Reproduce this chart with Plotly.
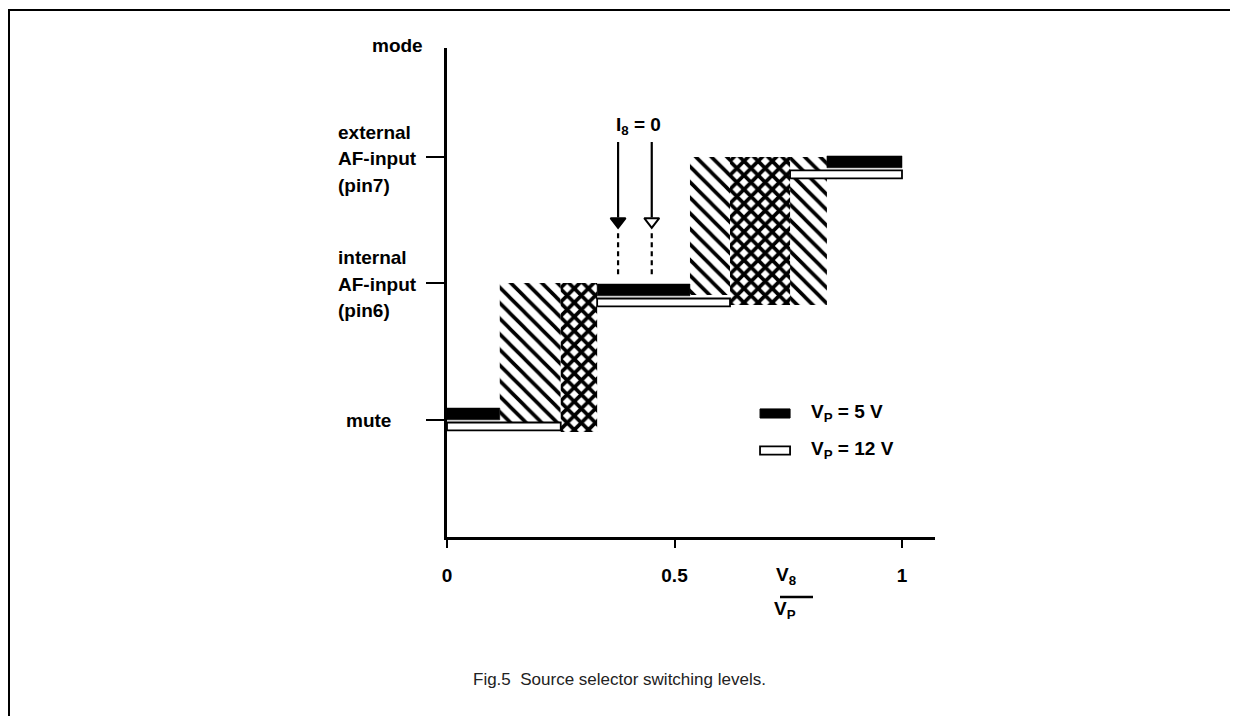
import plotly.graph_objects as go

# ---------------- data ----------------
level_names = ["mute", "internal", "external"]
level_tick_y = [1.0, 2.042, 3.0]          # y-axis tick positions of the three modes
level_y = [0.996, 1.939, 2.913]           # boundary between 5 V bar (above) and 12 V bar (below)

vp5_start = [0.0, 0.33, 0.835]
vp5_end = [0.116, 0.534, 1.0]
vp12_start = [0.0, 0.33, 0.754]
vp12_end = [0.25, 0.622, 1.0]

# single-hatched switching regions
diag_x0 = [0.116, 0.534, 0.754]
diag_x1 = [0.25, 0.622, 0.835]
diag_y0 = [0.985, 1.95, 1.875]
diag_y1 = [2.042, 3.0, 3.0]

# cross-hatched switching regions
cross_x0 = [0.25, 0.622]
cross_x1 = [0.33, 0.754]
cross_y0 = [0.909, 1.875]
cross_y1 = [2.042, 3.0]

# I8 = 0 arrows
arrow_x = [0.376, 0.45]
arrow_top = 3.114
arrow_head = 2.51
dash_top = 2.42
dash_bottom = 2.087

x_tick_vals = [0, 0.5, 1]
x_tick_text = ["0", "0.5", "1"]

# ---------------- geometry helpers ----------------
OFF = 8                              # page body margin of the html page
W, H = 1238 - OFF, 716 - OFF
L, R, T, B = 447, 935, 48, 537      # plot area in reference-picture pixels
XR = [0, (R - L) / 455.0]
px_per_unit = 131.5
YR = [1 - (B - 420) / px_per_unit, 1 + (420 - T) / px_per_unit]


def pxx(px):
    return (px - L) / (R - L)


def pyy(py):
    return (B - py) / (B - T)


FONT = "Liberation Sans"
FS = 19
BOLD = dict(family=FONT, size=FS, color="black")

fig = go.Figure()


def rect(x0, x1, y0, y1):
    return [x0, x1, x1, x0, x0], [y0, y0, y1, y1, y0]


# hatched regions
for a, b, c, d in zip(diag_x0, diag_x1, diag_y0, diag_y1):
    xs, ys = rect(a, b, c, d)
    fig.add_trace(go.Scatter(
        x=xs, y=ys, mode="lines", fill="toself", line=dict(width=0, color="black"),
        fillcolor="white",
        fillpattern=dict(shape="\\", fgcolor="black", bgcolor="white", fgopacity=1,
                         fillmode="replace", size=11, solidity=0.33),
        hoverinfo="skip", showlegend=False))

for a, b, c, d in zip(cross_x0, cross_x1, cross_y0, cross_y1):
    xs, ys = rect(a, b, c, d)
    fig.add_trace(go.Scatter(
        x=xs, y=ys, mode="lines", fill="toself", line=dict(width=0, color="black"),
        fillcolor="white",
        fillpattern=dict(shape="x", fgcolor="black", bgcolor="white", fgopacity=1,
                         fillmode="replace", size=10, solidity=0.6),
        hoverinfo="skip", showlegend=False))

# 12 V bars (white, outlined)
for a, b, lv in zip(vp12_start, vp12_end, level_y):
    xs, ys = rect(a, b, lv - 0.075, lv - 0.015)
    fig.add_trace(go.Scatter(
        x=xs, y=ys, mode="lines", fill="toself", fillcolor="white",
        line=dict(width=1.8, color="black"), hoverinfo="skip", showlegend=False))

# 5 V bars (black)
for a, b, lv in zip(vp5_start, vp5_end, level_y):
    xs, ys = rect(a, b, lv + 0.005, lv + 0.095)
    fig.add_trace(go.Scatter(
        x=xs, y=ys, mode="lines", fill="toself", fillcolor="black",
        line=dict(width=0.5, color="black"), hoverinfo="skip", showlegend=False))

# arrows
for i, ax_ in enumerate(arrow_x):
    fig.add_trace(go.Scatter(
        x=[ax_, ax_], y=[arrow_top, arrow_head + 0.03], mode="lines",
        line=dict(color="black", width=2.2), hoverinfo="skip", showlegend=False))
    fig.add_trace(go.Scatter(
        x=[ax_, ax_], y=[dash_top, dash_bottom], mode="lines",
        line=dict(color="black", width=2.2, dash="5px,4px"), hoverinfo="skip", showlegend=False))
    fig.add_trace(go.Scatter(
        x=[ax_], y=[arrow_head], mode="markers",
        marker=dict(symbol="triangle-down" if i == 0 else "triangle-down-open",
                    size=13, color="black", line=dict(width=2, color="black")),
        hoverinfo="skip", showlegend=False))

annotations = []
annotations.append(dict(x=0.42, y=pyy(112), xref="x", yref="paper", showarrow=False,
                        text="<b>I<sub>8</sub> = 0</b>", font=BOLD))


def label(text, px, py, anchor):
    annotations.append(dict(x=pxx(px), y=pyy(py), xref="paper", yref="paper", showarrow=False,
                            xanchor=anchor, yanchor="middle", text=f"<b>{text}</b>", font=BOLD))


# y labels (one annotation per line to keep the loose line spacing)
label("mode", 425, 45, "right")
label("external", 336, 132, "left")
label("AF-input", 336, 158, "left")
label("(pin7)", 336, 185, "left")
label("internal", 336, 258, "left")
label("AF-input", 336, 284, "left")
label("(pin6)", 336, 310, "left")
label("mute", 393, 420, "right")

# x-axis fraction label
annotations.append(dict(x=pxx(798), y=pyy(590), xref="paper", yref="paper", showarrow=False,
                        text="<b>V<sub>8</sub></b>", font=BOLD))
annotations.append(dict(x=pxx(798), y=pyy(624), xref="paper", yref="paper", showarrow=False,
                        text="<b>V<sub>P</sub></b>", font=BOLD))

# legend texts
annotations.append(dict(x=0.795, y=1.05, xref="x", yref="y", showarrow=False, xanchor="left",
                        text="<b>V<sub>P</sub> = 5 V</b>", font=BOLD))
annotations.append(dict(x=0.795, y=0.77, xref="x", yref="y", showarrow=False, xanchor="left",
                        text="<b>V<sub>P</sub> = 12 V</b>", font=BOLD))

# caption
annotations.append(dict(x=pxx(619), y=pyy(691), xref="paper", yref="paper", showarrow=False,
                        text="Fig.5  Source selector switching levels.",
                        font=dict(family=FONT, size=17, color="#222")))

shapes = [
    # frame
    dict(type="line", xref="paper", yref="paper", x0=pxx(9), x1=pxx(9), y0=pyy(9), y1=pyy(720),
         line=dict(color="black", width=2)),
    dict(type="line", xref="paper", yref="paper", x0=pxx(8), x1=pxx(1240), y0=pyy(10), y1=pyy(10),
         line=dict(color="black", width=2)),
    # fraction bar
    dict(type="line", xref="paper", yref="paper", x0=pxx(780), x1=pxx(813), y0=pyy(597), y1=pyy(597),
         line=dict(color="black", width=2.5)),
    # legend swatches
    dict(type="rect", xref="x", yref="y", x0=0.688, x1=0.754, y0=1.015, y1=1.084,
         fillcolor="black", line=dict(color="black", width=1)),
    dict(type="rect", xref="x", yref="y", x0=0.688, x1=0.754, y0=0.737, y1=0.799,
         fillcolor="white", line=dict(color="black", width=1.8)),
]

fig.update_layout(
    width=W, height=H,
    margin=dict(l=L - OFF, r=W - (R - OFF), t=T - OFF, b=H - (B - OFF), pad=0),
    paper_bgcolor="white", plot_bgcolor="white",
    showlegend=False,
    annotations=annotations,
    shapes=shapes,
    xaxis=dict(range=XR, showgrid=False, zeroline=False, showline=True, linecolor="black",
               linewidth=2.8, ticks="outside", ticklen=8, tickwidth=2, tickcolor="black",
               tickvals=x_tick_vals, ticktext=[f"<b>{t}</b>" for t in x_tick_text],
               tickfont=BOLD, ticklabelstandoff=11),
    yaxis=dict(range=YR, showgrid=False, zeroline=False, showline=True, linecolor="black",
               linewidth=2.8, ticks="outside", ticklen=18, tickwidth=1.6, tickcolor="black",
               tickvals=level_tick_y, showticklabels=False),
)

fig.write_html("out.html")
